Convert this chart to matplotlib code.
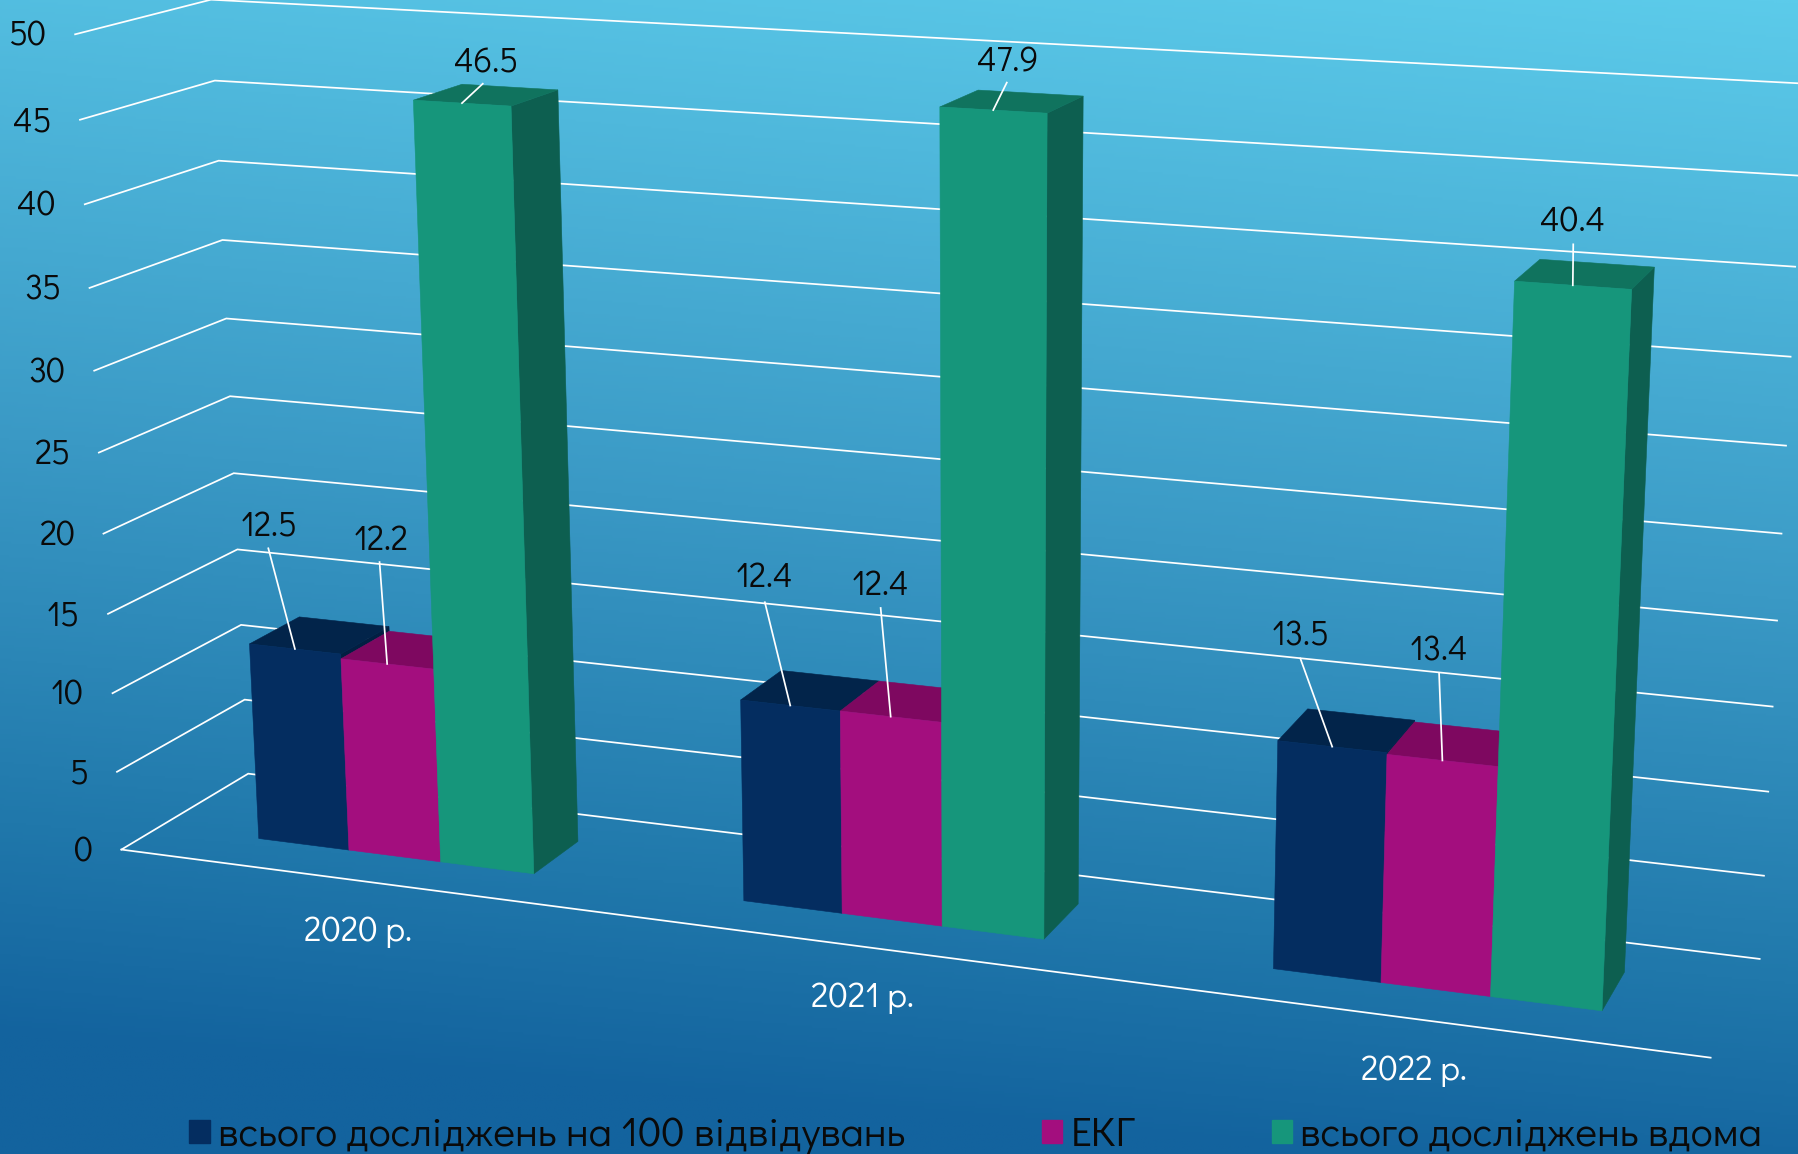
import numpy as np
import matplotlib
matplotlib.use('Agg')
import matplotlib.pyplot as plt
from matplotlib.patches import Polygon, Patch
from matplotlib.colors import LinearSegmentedColormap
import logging
logging.getLogger('matplotlib.font_manager').setLevel(logging.ERROR)

# ---- data ----
categories = ['2020 р.', '2021 р.', '2022 р.']
series_names = ['всього досліджень на 100 відвідувань', 'ЕКГ', 'всього досліджень вдома']
total_per_100 = [12.5, 12.4, 13.5]
ecg = [12.2, 12.4, 13.4]
total_home = [46.5, 47.9, 40.4]
value_ticks = [0, 5, 10, 15, 20, 25, 30, 35, 40, 45, 50]

# ---- style ----
plt.rcParams['font.family'] = ['Didact Gothic', 'Noto Sans', 'DejaVu Sans']
FRONT = ['#042D60', '#A30E7E', '#16967B']
TOP = ['#02244A', '#7E0860', '#10735E']
SIDE = ['#021F42', '#6E0754', '#0D5F50']
# manually placed data labels: centre of each label, per series, per category
label_pos = [[(235, 460), (667, 504), (1134, 555)],
             [(332, 471), (768, 511), (1255, 568)],
             [(424, 55), (879, 54), (1371, 194)]]
leader_top = [[(234, 478), (667, 525), (1134, 574)],
              [(331, 490), (768, 530), (1255, 587)],
              [(421, 73), (878, 72), (1372, 213)]]

# perspective camera: (category position, value, depth) -> reference position
CAM = np.array([[398.8019563, -0.8735825, 122.6204016, 105.8701683],
                [21.4210196, -14.2444469, -28.6803353, 740.6144534],
                [-0.0423509, -0.0010174, 0.0555886, 1.0]])
BAR_START, BAR_W, Z0, Z1 = 0.2125, 0.1925, 0.30, 0.70


def proj(x, y, z):
    h = CAM @ np.array([x, y, z, 1.0])
    return h[0] / h[2], h[1] / h[2]


W, H = 1568, 1006
fig = plt.figure(figsize=(17.98, 11.54), dpi=100)
ax = fig.add_axes([0, 0, 1, 1])
ax.set_xlim(0, W)
ax.set_ylim(H, 0)
ax.axis('off')

# background gradient, slightly tilted
cmap = LinearSegmentedColormap.from_list('bg', [(0.0, '#5CCBEA'), (0.5, '#3A99C5'),
                                                (0.82, '#2078AB'), (1.0, '#13639E')])
yy, xx = np.mgrid[0:H:2, 0:W:2]
t = np.clip((yy + (W - xx) * 0.09) / (985 + 60), 0, 1)
ax.imshow(t, cmap=cmap, vmin=0, vmax=1, extent=(0, W, H, 0), aspect='auto', zorder=0)
ax.set_xlim(0, W)
ax.set_ylim(H, 0)

# walls and floor gridlines
for v in value_ticks:
    pts = [proj(0, v, 0), proj(0, v, 1), proj(3, v, 1)]
    ax.plot(*zip(*pts), color='white', lw=1.25, solid_joinstyle='miter', zorder=1)
    x0, y0 = pts[0]
    ax.text(x0 - 25, y0 + 2, str(v), ha='right', va='center', fontsize=24.5, color='#0A0A0A', zorder=6)
ax.plot(*zip(proj(0, 0, 0), proj(3, 0, 0)), color='white', lw=1.25, zorder=1)
for i, c in enumerate(categories):
    x0, y0 = proj(i + 0.5, 0, 0)
    ax.text(x0, y0 + 45, c, ha='center', va='center', fontsize=25, color='white', zorder=6)

# bars
series = [total_per_100, ecg, total_home]


def face(corners, col, z):
    ax.add_patch(Polygon([proj(*c) for c in corners], closed=True, facecolor=col,
                         edgecolor=col, lw=0.4, zorder=z))


for i in range(len(categories)):
    for k in [1, 0, 2]:
        val = series[k][i]
        x0 = i + BAR_START + k * BAR_W
        x1 = x0 + BAR_W
        nxt = series[k + 1][i] if k < 2 else 0
        z = 2 + k * 0.1
        if k == 2:
            z = 3
        if val > nxt:
            face([(x1, nxt, Z0), (x1, val, Z0), (x1, val, Z1), (x1, nxt, Z1)], SIDE[k], z)
        face([(x0, val, Z0), (x1, val, Z0), (x1, val, Z1), (x0, val, Z1)], TOP[k], z)
    for k in range(3):
        val = series[k][i]
        x0 = i + BAR_START + k * BAR_W
        x1 = x0 + BAR_W
        face([(x0, 0, Z0), (x1, 0, Z0), (x1, val, Z0), (x0, val, Z0)], FRONT[k], 3 if k == 2 else 2.5)
        # data label and its leader line down to the middle of the bar's top edge
        end = proj(x0 + BAR_W / 2, val, Z0)
        ax.plot(*zip(leader_top[k][i], end), color='white', lw=1.25, zorder=5)
        lx, ly = label_pos[k][i]
        ax.text(lx, ly, f'{val:.1f}', ha='center', va='center', fontsize=24.5, color='#0A0A0A', zorder=6)

handles = [Patch(facecolor=c, edgecolor=c, label=n) for c, n in zip(FRONT, series_names)]
ax.legend(handles=handles, loc='lower left', bbox_to_anchor=(165, 1006), bbox_transform=ax.transData,
          ncols=3, frameon=False, fontsize=29.7, handlelength=0.5, handleheight=0.5,
          handletextpad=0.2, columnspacing=3.3, borderpad=0, borderaxespad=0, labelcolor='#0A0A0A')

fig.savefig('out.png', dpi=100)
